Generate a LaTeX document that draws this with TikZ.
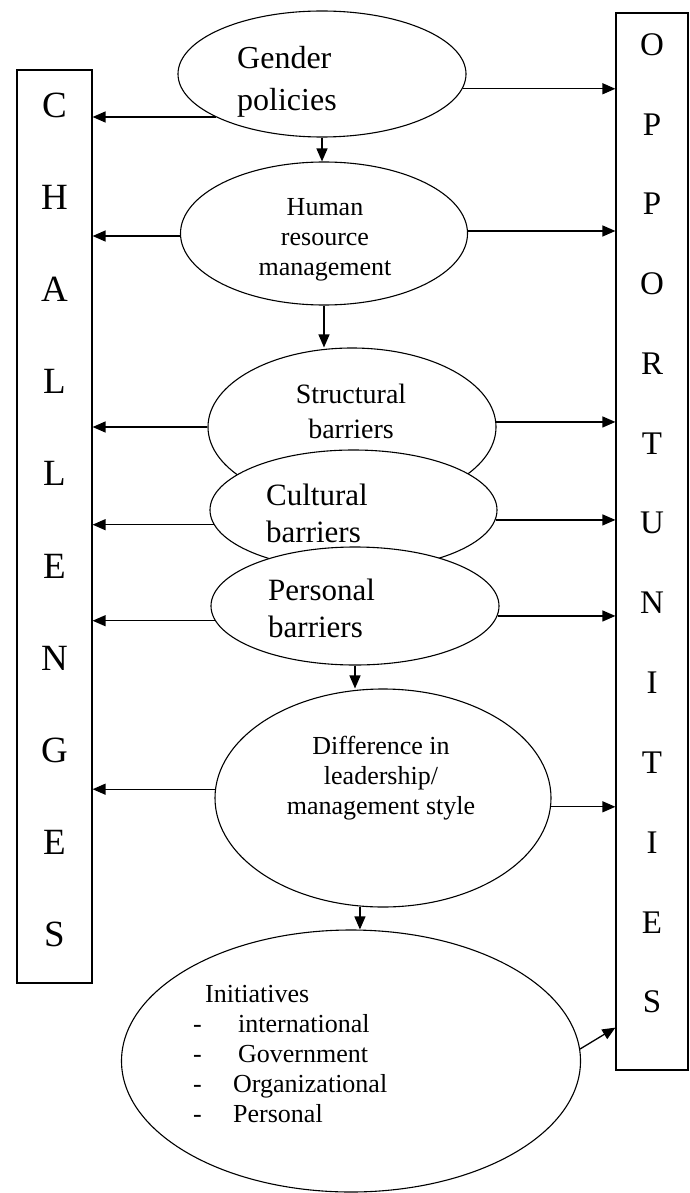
\documentclass[tikz,border=0pt]{standalone}
\usepackage{fontspec}
\setmainfont{Liberation Serif}
\usetikzlibrary{shapes.geometric,arrows.meta,calc}
\begin{document}
\begin{tikzpicture}[x=1pt,y=1pt,
  ell/.style={ellipse,draw,line width=1.1pt,inner sep=0pt,fill=white},
  arr/.style={-{Triangle[length=13pt,width=11pt]},line width=1.3pt},
  bigbox/.style={draw,line width=1.2pt,inner sep=0pt},
  lletter/.style={inner sep=0pt,font=\fontsize{37}{37}\selectfont},
  rletter/.style={inner sep=0pt,font=\fontsize{33}{33}\selectfont},
  txt/.style={inner sep=0pt}]
\fill[white] (0,0) rectangle (690,-1193);
\useasboundingbox (0,0) rectangle (690,-1193);

% side boxes
\node[bigbox,minimum width=75pt,minimum height=913pt] (lb) at (54.5,-526.5) {};
\node[bigbox,minimum width=72pt,minimum height=1057pt] (rb) at (652,-541.5) {};
\foreach[count=\i] \l in {C,H,A,L,L,E,N,G,E,S}
  \node[lletter] (c\i) at (54.5,{-105-(\i-1)*92.2}) {\l};
\foreach[count=\i] \l in {O,P,P,O,R,T,U,N,I,T,I,E,S}
  \node[rletter] (o\i) at (652,{-44.5-(\i-1)*79.8}) {\l};

% ellipses and texts
\node[ell,minimum width=288pt,minimum height=126pt] (gp) at (322,-74) {};
\node[txt,anchor=north west,align=left,font=\fontsize{32}{42}\selectfont] (gpT) at (237,-46) {Gender\\policies};

\node[ell,minimum width=287pt,minimum height=143pt] (hrm) at (324,-233.5) {};
\node[txt,anchor=north,align=center,font=\fontsize{26}{30}\selectfont] (hrmT) at (325,-198) {Human\\resource\\management};

\node[ell,minimum width=288pt,minimum height=158pt] (st) at (352,-427) {};
\node[txt,anchor=north,align=center,font=\fontsize{28}{35}\selectfont] (stT) at (351,-384) {Structural\\barriers};

\node[ell,minimum width=287pt,minimum height=120pt] (cu) at (353.5,-510) {};
\node[txt,anchor=north west,align=left,font=\fontsize{31}{37}\selectfont] (cuT) at (266,-484) {Cultural\\barriers};

\node[ell,minimum width=288pt,minimum height=118pt] (pe) at (355,-606) {};
\node[txt,anchor=north west,align=left,font=\fontsize{31}{37}\selectfont] (peT) at (268,-579) {Personal\\barriers};

\node[ell,minimum width=336pt,minimum height=218pt] (di) at (383,-798) {};
\node[txt,anchor=north,align=center,font=\fontsize{26}{30}\selectfont] (diT) at (381,-736) {Difference in\\leadership/\\management style};

\node[ell,minimum width=459pt,minimum height=262pt] (ini) at (351,-1061) {};
\node[txt,anchor=north west,align=left,font=\fontsize{26}{30}\selectfont] (iniT) at (193,-985) {\hspace*{12pt}Initiatives\\\makebox[45pt][l]{-}international\\\makebox[45pt][l]{-}Government\\\makebox[40pt][l]{-}Organizational\\\makebox[40pt][l]{-}Personal};

% horizontal arrows
\draw[arr] (gp.202) -- (gp.202 -| lb.east);
\draw[arr] (gp.354) -- (gp.354 -| rb.west);
\draw[arr] (hrm.181) -- (hrm.181 -| lb.east);
\draw[arr] (hrm.1) -- (hrm.1 -| rb.west);
\draw[arr] (st.180) -- (st.180 -| lb.east);
\draw[arr] (st.2) -- (st.2 -| rb.west);
\draw[arr] (cu.186) -- (cu.186 -| lb.east);
\draw[arr] (cu.356) -- (cu.356 -| rb.west);
\draw[arr] (pe.186) -- (pe.186 -| lb.east);
\draw[arr] (pe.356) -- (pe.356 -| rb.west);
\draw[arr] (di.177) -- (di.177 -| lb.east);
\draw[arr] (di.357) -- (di.357 -| rb.west);
\coordinate (ie) at ($(rb.south west)+(0,43)$);
\draw[arr] (ini.3) -- (ie);

% vertical arrows
\draw[arr] (gp.south) -- (gp.south |- hrm.north);
\draw[arr] (hrm.south) -- (hrm.south |- st.north);
\draw[arr] (pe.south) -- (pe.south |- di.north);
\draw[arr] (di.258) -- (di.258 |- ini.north);
\end{tikzpicture}
\end{document}
